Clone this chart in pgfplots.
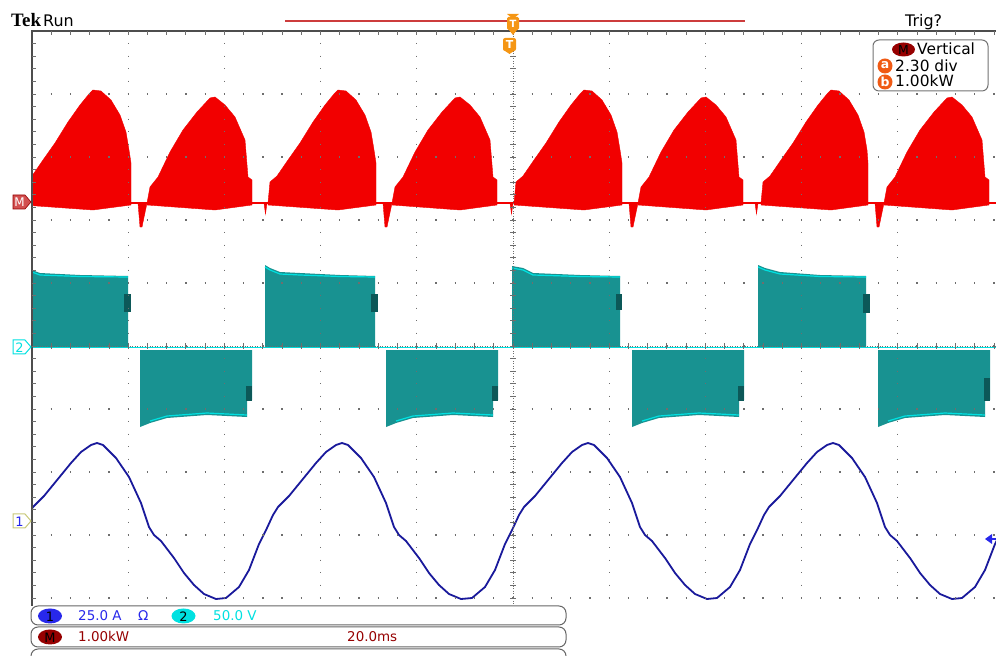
\documentclass[border=0pt]{standalone}
\usepackage{pgfplots}
\pgfplotsset{compat=1.18}
\usepackage{fontspec}
\setmainfont{DejaVu Sans}
\newfontfamily\tekfont{Liberation Serif}
\definecolor{tred}{RGB}{242,0,0}
\definecolor{tteal}{RGB}{24,146,145}
\definecolor{tcyan}{RGB}{0,225,225}
\definecolor{tdark}{RGB}{12,88,88}
\definecolor{tblue}{RGB}{25,25,155}
\definecolor{sblue}{RGB}{40,40,235}
\definecolor{mred}{RGB}{150,0,0}
\definecolor{torange}{RGB}{245,150,20}
\definecolor{borange}{RGB}{240,90,20}
\definecolor{gridc}{RGB}{110,110,110}
\definecolor{recred}{RGB}{205,60,60}
\begin{document}
\begin{tikzpicture}
\useasboundingbox (0,0) rectangle (996bp,656bp);
\begin{axis}[at={(32bp,51bp)}, anchor=south west, scale only axis,
  width=965bp, height=574bp, xmin=32, xmax=997, ymin=31, ymax=605,
  y dir=reverse, axis lines=none, ticks=none, clip=true]
% ---- Math channel M (power), red
\addplot[tred, line width=1.3bp] coordinates {(32,203) (997,203)};
\addplot[fill=tred, draw=tred, line width=0.4bp] coordinates {(23,203) (25,182) (32,176) (43,160) (55,143) (68,122) (80,105) (89,94) (93,90) (101,91) (111,100) (120,115) (126,132) (129,150) (131,163) (131,203) (131,205) (93,210) (23,205)} -- cycle;
\addplot[fill=tred, draw=tred, line width=0.4bp] coordinates {(268,203) (270,182) (277,176) (288,160) (300,143) (313,122) (325,105) (334,94) (338,90) (346,91) (356,100) (365,115) (371,132) (374,150) (376,163) (376,203) (376,205) (338,210) (268,205)} -- cycle;
\addplot[fill=tred, draw=tred, line width=0.4bp] coordinates {(514,203) (516,182) (523,176) (534,160) (546,143) (559,122) (571,105) (580,94) (584,90) (592,91) (602,100) (611,115) (617,132) (620,150) (622,163) (622,203) (622,205) (584,210) (514,205)} -- cycle;
\addplot[fill=tred, draw=tred, line width=0.4bp] coordinates {(761,203) (763,182) (770,176) (781,160) (793,143) (806,122) (818,105) (827,94) (831,90) (839,91) (849,100) (858,115) (864,132) (867,150) (868,163) (868,203) (868,205) (831,210) (761,205)} -- cycle;
\addplot[fill=tred, draw=tred, line width=0.4bp] coordinates {(147,203) (150,187) (158,177) (170,152) (183,130) (197,112) (210,98) (215,97) (225,105) (235,117) (245,140) (248,177) (252,180) (252,203) (252,205) (215,210) (147,205)} -- cycle;
\addplot[fill=tred, draw=tred, line width=0.4bp] coordinates {(392,203) (395,187) (403,177) (415,152) (428,130) (442,112) (455,98) (460,97) (470,105) (480,117) (490,140) (493,177) (497,180) (497,203) (497,205) (460,210) (392,205)} -- cycle;
\addplot[fill=tred, draw=tred, line width=0.4bp] coordinates {(638,203) (641,187) (649,177) (661,152) (674,130) (688,112) (701,98) (706,97) (716,105) (726,117) (736,140) (739,177) (743,180) (743,203) (743,205) (706,210) (638,205)} -- cycle;
\addplot[fill=tred, draw=tred, line width=0.4bp] coordinates {(884,203) (887,187) (895,177) (907,152) (920,130) (934,112) (947,98) (952,97) (962,105) (972,117) (982,140) (985,177) (989,180) (989,203) (989,205) (952,210) (884,205)} -- cycle;
% spikes
\addplot[fill=tred, draw=tred, line width=0.4bp] coordinates {(138,203) (140,227) (142,227) (147,203)} -- cycle;
\addplot[fill=tred, draw=tred, line width=0.4bp] coordinates {(383,203) (385,227) (387,227) (392,203)} -- cycle;
\addplot[fill=tred, draw=tred, line width=0.4bp] coordinates {(629,203) (631,227) (633,227) (638,203)} -- cycle;
\addplot[fill=tred, draw=tred, line width=0.4bp] coordinates {(875,203) (877,227) (879,227) (884,203)} -- cycle;
\addplot[fill=tred, draw=tred, line width=0.4bp] coordinates {(264,203) (265.5,214) (267,203)} -- cycle;
\addplot[fill=tred, draw=tred, line width=0.4bp] coordinates {(510,203) (511.5,214) (513,203)} -- cycle;
\addplot[fill=tred, draw=tred, line width=0.4bp] coordinates {(755,203) (756.5,214) (758,203)} -- cycle;
% ---- Channel 2 (voltage), teal
\addplot[tcyan, line width=1.5bp] coordinates {(32,347.5) (997,347.5)};
\addplot[fill=tteal, draw=none] coordinates {(32,270) (40,273) (80,275) (128,276) (128,347) (32,347)} -- cycle;
\addplot[fill=tteal, draw=none] coordinates {(265,265) (270,268) (280,272) (300,273) (340,275) (375,276) (375,347) (265,347)} -- cycle;
\addplot[fill=tteal, draw=none] coordinates {(512,266) (523,268) (533,273) (580,275) (620,276) (620,347) (512,347)} -- cycle;
\addplot[fill=tteal, draw=none] coordinates {(758,265) (765,268) (780,272) (820,275) (866,276) (866,347) (758,347)} -- cycle;
\addplot[tcyan, line width=1.2bp] coordinates {(32,272) (40,275) (80,276.5) (128,277)};
\addplot[tcyan, line width=1.2bp] coordinates {(265,267) (270,270) (280,274) (300,275) (340,276.5) (375,277)};
\addplot[tcyan, line width=1.2bp] coordinates {(512,268) (523,270) (533,275) (580,276.5) (620,277)};
\addplot[tcyan, line width=1.2bp] coordinates {(758,267) (765,270) (780,274) (820,276.5) (866,277)};
\addplot[fill=tteal, draw=none] coordinates {(140,350) (252,350) (252,400) (247,400) (247,417) (207,415) (167,418) (150,423) (140,427)} -- cycle;
\addplot[fill=tteal, draw=none] coordinates {(386,350) (498,350) (498,400) (493,400) (493,417) (453,415) (413,418) (396,423) (386,427)} -- cycle;
\addplot[fill=tteal, draw=none] coordinates {(632,350) (744,350) (744,400) (739,400) (739,417) (699,415) (659,418) (642,423) (632,427)} -- cycle;
\addplot[fill=tteal, draw=none] coordinates {(878,350) (990,350) (990,400) (985,400) (985,417) (945,415) (905,418) (888,423) (878,427)} -- cycle;
\addplot[tcyan, line width=1.2bp] coordinates {(150,421) (167,416) (207,413) (247,415)};
\addplot[tcyan, line width=1.2bp] coordinates {(396,421) (413,416) (453,413) (493,415)};
\addplot[tcyan, line width=1.2bp] coordinates {(642,421) (659,416) (699,413) (739,415)};
\addplot[tcyan, line width=1.2bp] coordinates {(888,421) (905,416) (945,413) (985,415)};
\addplot[fill=tdark, draw=none] coordinates {(124,294) (131,294) (131,312) (124,312)} -- cycle;
\addplot[fill=tdark, draw=none] coordinates {(371,294) (378,294) (378,312) (371,312)} -- cycle;
\addplot[fill=tdark, draw=none] coordinates {(616,294) (622,294) (622,310) (616,310)} -- cycle;
\addplot[fill=tdark, draw=none] coordinates {(863,294) (870,294) (870,313) (863,313)} -- cycle;
\addplot[fill=tdark, draw=none] coordinates {(246,386) (252,386) (252,401) (246,401)} -- cycle;
\addplot[fill=tdark, draw=none] coordinates {(492,386) (498,386) (498,401) (492,401)} -- cycle;
\addplot[fill=tdark, draw=none] coordinates {(738,386) (744,386) (744,401) (738,401)} -- cycle;
\addplot[fill=tdark, draw=none] coordinates {(984,378) (990,378) (990,401) (984,401)} -- cycle;
% ---- Channel 1 (current), blue
\addplot[tblue, line width=1.8bp, line join=round] coordinates {
(28,515) (33,507) (44,496) (53,485) (62,474) (71,463) (81,452) (91,445) (97,443) (103,445) (116,458) (129,477) (141,503) (149,527) (154,535) (161,541) (174,558) (184,573) (194,585) (204,594) (216,599)
(226,598) (239,587) (249,570) (259,544) (267,528) (273,515) (278,507) (289,496) (298,485) (307,474) (316,463) (326,452) (336,445) (342,443) (348,445) (361,458) (374,477) (386,503) (394,527) (399,535) (406,541) (419,558) (429,573) (439,585) (449,594) (461,599)
(472,598) (485,587) (495,570) (505,544) (513,528) (519,515) (524,507) (535,496) (544,485) (553,474) (562,463) (572,452) (582,445) (588,443) (594,445) (607,458) (620,477) (632,503) (640,527) (645,535) (652,541) (665,558) (675,573) (685,585) (695,594) (707,599)
(717,598) (730,587) (740,570) (750,544) (758,528) (764,515) (769,507) (780,496) (789,485) (798,474) (807,463) (817,452) (827,445) (833,443) (839,445) (852,458) (865,477) (877,503) (885,527) (890,535) (897,541) (910,558) (920,573) (930,585) (940,594) (952,599)
(962,598) (975,587) (985,570) (995,544) (1003,528)};
\end{axis}
% ---- graticule, header, readouts (pixel frame)
\begin{scope}[shift={(0bp,656bp)}, x=1bp, y=-1bp]
\foreach \k in {1,...,9} {
  \draw[gridc, line width=1.3bp, dash pattern=on 1.3bp off 11.3bp] ({32+96.2*\k}, 30.35) -- ({32+96.2*\k}, 605);
  \draw[gridc, line width=1.3bp, dash pattern=on 1.3bp off 17.94bp] (31.35, {31+63*\k}) -- (997, {31+63*\k});
}
\draw[gridc, line width=0.7bp, dash pattern=on 0.7bp off 1.8bp] (513,31) -- (513,605);
\draw[gridc, line width=0.7bp, dash pattern=on 0.7bp off 1.8bp] (32,346) -- (997,346);
\foreach \j in {1,...,45} { \draw[gridc, line width=0.9bp] (510, {31+12.6*\j}) -- (516, {31+12.6*\j}); }
\foreach \j in {1,...,50} { \draw[gridc, line width=0.9bp] ({32+19.24*\j}, 343) -- ({32+19.24*\j}, 349); }
\draw[gridc!70!black, line width=1.5bp] (32,606) -- (32,31) -- (997,31);
\foreach \j in {1,...,50} { \draw[gridc, line width=0.9bp] ({32+19.24*\j}, 31) -- ++(0,4); }
\foreach \j in {1,...,45} { \draw[gridc, line width=0.9bp] (32, {31+12.6*\j}) -- ++(4,0); }
% header
\node[anchor=base west, inner sep=0, font=\tekfont\bfseries\fontsize{19}{19}\selectfont] at (11,27) {Tek};
\node[anchor=base west, inner sep=0, font=\fontsize{16}{16}\selectfont] at (43,27) {Run};
\node[anchor=base west, inner sep=0, font=\fontsize{16}{16}\selectfont] at (905,27) {Trig?};
\draw[recred, line width=1.3bp] (285,21) -- (745,21);
\fill[torange] (507,14) -- (519,14) -- (513,19) -- cycle;
\fill[torange, rounded corners=1.5bp] (507,17) rectangle (519,30);
\fill[torange] (509,30) -- (517,30) -- (513,35) -- cycle;
\node[text=white, inner sep=0, font=\bfseries\fontsize{10}{10}\selectfont] at (513,24) {T};
\fill[torange, rounded corners=2bp] (503,38) rectangle (516,51);
\fill[torange] (505,51) -- (514,51) -- (509.5,54) -- cycle;
\node[text=white, inner sep=0, font=\bfseries\fontsize{11}{11}\selectfont] at (509.5,44.5) {T};
% legend box
\draw[rounded corners=6bp, black!55, fill=white, line width=1bp] (873,40) rectangle (988,91);
\fill[mred] (903.5,49.5) ellipse [x radius=11.5bp, y radius=7bp];
\node[inner sep=0, font=\fontsize{12.5}{12.5}\selectfont] at (903.5,50) {M};
\node[anchor=base west, inner sep=0, font=\fontsize{15.5}{15.5}\selectfont] at (917,55) {Vertical};
\fill[borange] (885,66) circle [radius=7.5bp];
\node[text=white, inner sep=0, font=\bfseries\fontsize{12.5}{12.5}\selectfont] at (885,65.5) {a};
\node[anchor=base west, inner sep=0, font=\fontsize{15.5}{15.5}\selectfont] at (895,72) {2.30 div};
\fill[borange] (885,82) circle [radius=7.5bp];
\node[text=white, inner sep=0, font=\bfseries\fontsize{12.5}{12.5}\selectfont] at (885,81.5) {b};
\node[anchor=base west, inner sep=0, font=\fontsize{15.5}{15.5}\selectfont] at (895,87) {1.00kW};
% left channel markers
\filldraw[fill={rgb,255:red,210;green,80;blue,80}, draw=mred, line width=0.6bp] (13,195) -- (25,195) -- (31,202) -- (25,209) -- (13,209) -- cycle;
\node[text=white, inner sep=0, font=\fontsize{12}{12}\selectfont] at (19.5,202.5) {M};
\filldraw[fill=white, draw=tcyan, line width=1bp] (13,340) -- (25,340) -- (31,347) -- (25,354) -- (13,354) -- cycle;
\node[text=tcyan, inner sep=0, font=\fontsize{13}{13}\selectfont] at (19.5,347.5) {2};
\filldraw[fill=white, draw={rgb,255:red,200;green,200;blue,120}, line width=1bp] (13,514) -- (25,514) -- (31,521) -- (25,528) -- (13,528) -- cycle;
\node[text=sblue, inner sep=0, font=\fontsize{13}{13}\selectfont] at (19.5,521.5) {1};
\fill[sblue] (985,539) -- (992,534) -- (992,544) -- cycle;
\draw[sblue, line width=2bp] (990,539) -- (996,539);
% status readouts
\draw[rounded corners=7bp, black!60, line width=1bp, fill=white] (31,606) rectangle (566,625);
\draw[rounded corners=7bp, black!60, line width=1bp, fill=white] (31,627) rectangle (566,647);
\draw[rounded corners=7bp, black!60, line width=1bp, fill=white] (31,649) rectangle (566,672);
\fill[sblue] (50,616) ellipse [x radius=12bp, y radius=7.5bp];
\node[inner sep=0, font=\fontsize{13}{13}\selectfont] at (50,616.5) {1};
\node[anchor=base west, inner sep=0, text=sblue, font=\fontsize{13.5}{13.5}\selectfont] at (78,621) {25.0 A};
\node[anchor=base west, inner sep=0, text=sblue, font=\fontsize{13.5}{13.5}\selectfont] at (138,621) {Ω};
\fill[tcyan] (183.5,616) ellipse [x radius=12bp, y radius=7.5bp];
\node[inner sep=0, font=\fontsize{13}{13}\selectfont] at (183.5,616.5) {2};
\node[anchor=base west, inner sep=0, text=tcyan, font=\fontsize{13.5}{13.5}\selectfont] at (213,621) {50.0 V};
\fill[mred] (50,637) ellipse [x radius=12bp, y radius=7.5bp];
\node[inner sep=0, font=\fontsize{13}{13}\selectfont] at (50,637.5) {M};
\node[anchor=base west, inner sep=0, text=mred, font=\fontsize{13.5}{13.5}\selectfont] at (78,642) {1.00kW};
\node[anchor=base west, inner sep=0, text=mred, font=\fontsize{13.5}{13.5}\selectfont] at (347,642) {20.0ms};
\end{scope}
\end{tikzpicture}
\end{document}
